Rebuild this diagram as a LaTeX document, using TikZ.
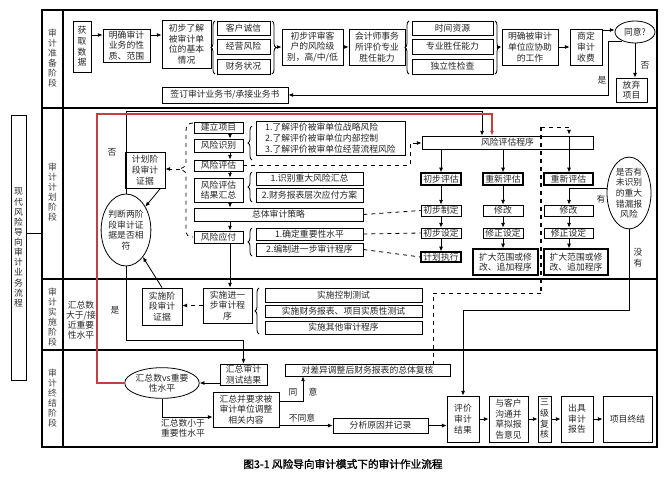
\documentclass[tikz,border=0pt]{standalone}
\usepackage{fontspec}
\setmainfont{Noto Sans CJK SC}
\newfontfamily\capfont[FakeBold=1.5]{Noto Sans CJK SC}
\usetikzlibrary{arrows.meta,shapes.geometric,decorations.pathreplacing}
\definecolor{redc}{RGB}{196,64,64}
\newcommand\fsz{\fontsize{6.6}{8}\selectfont}
\newcommand\fsv{\fontsize{6.6}{7.6}\selectfont}
\newcommand\mybox[7][]{\node[bx,minimum width={(#5-#3)*0.75pt},minimum height={(#6-#4)*0.75pt},#1] (#2) at ({(#3+#5)/2},{(#4+#6)/2}) {#7};}
\begin{document}
\begin{tikzpicture}[x=0.75pt,y=-0.75pt,
  bx/.style={draw,line width=0.6pt,inner sep=0pt,align=center,font=\fsz,text=black!85},
  tb/.style={line width=0.95pt},
  ell/.style={draw,ellipse,line width=0.6pt,inner sep=0pt,align=center,font=\fsz,text=black!85},
  arr/.style={line width=0.6pt,-{Latex[length=3.5pt,width=3pt]}},
  dsh/.style={line width=0.6pt,dashed},
  brc/.style={line width=0.6pt,decorate,decoration={brace,amplitude=3pt}},
  lbl/.style={font=\fsz,align=center,inner sep=0pt,text=black!85},
  stg/.style={font=\fsv,align=center,inner sep=0pt,text=black!75}]
\useasboundingbox (0,0) rectangle (667,500);
\fill[white] (0,0) rectangle (667,500);
% frame
\draw[line width=0.8pt] (42,10) rectangle (657,447);
\draw[line width=0.8pt] (63,10) -- (63,447);
\draw[line width=0.8pt] (42,108) -- (657,108);
\draw[line width=0.8pt] (42,279) -- (657,279);
\draw[line width=0.8pt] (42,350) -- (657,350);
\mybox[font=\fsv]{ob}{11}{115}{26}{380}{现\\代\\风\\险\\导\\向\\审\\计\\业\\务\\流\\程}
\coordinate (obc) at (42,233);
\draw[line width=0.6pt] (ob.east |- obc) -- (obc);
\node[stg] (st1) at (52.5,58) {审\\计\\准\\备\\阶\\段};
\node[stg] (st2) at (52.5,192) {审\\计\\计\\划\\阶\\段};
\node[stg] (st3) at (52.5,317) {审\\计\\实\\施\\阶\\段};
\node[stg] (st4) at (52.5,398) {审\\计\\终\\结\\阶\\段};
% ---------- preparation
\mybox{hq}{73}{21}{91}{72}{获\\取\\数\\据}
\mybox{mq}{103}{29}{150}{62}{明确审计\\业务的性\\质、范围}
\mybox{cb}{162}{20}{211}{68}{初步了解\\被审计单\\位的基本\\情况}
\mybox{kh}{217}{21}{270}{35}{客户诚信}
\mybox{jy}{217}{39}{270}{54}{经营风险}
\mybox{cw}{217}{59}{270}{74}{财务状况}
\mybox{cp}{282}{29}{343}{65}{初步评审客\\户的风险级\\别，高/中/低}
\mybox{kj}{349}{29}{405}{65}{会计师事务\\所评价专业\\胜任能力}
\mybox{sjz1}{412}{21}{493}{35}{时间资源}
\mybox{zy}{412}{39}{493}{54}{专业胜任能力}
\mybox{dl}{412}{59}{493}{74}{独立性检查}
\mybox{mb}{502}{29}{558}{65}{明确被审计\\单位应协助\\的工作}
\mybox{sd}{570}{29}{602}{65}{商定\\审计\\收费}
\node[ell,minimum width=30pt,minimum height=16.5pt] (ty) at (635,32) {同意?};
\mybox{fq}{616}{78}{647}{102}{放弃\\项目}
\mybox{qd}{162}{87}{288}{103}{签订审计业务书/承接业务书}
\draw[arr] (hq.east |- 0,35) -- (mq.west |- 0,35);
\draw[arr] (mq.east |- 0,35) -- (cb.west |- 0,35);
\draw[brc] (215,74) -- (215,21);
\draw[brc] (272,21) -- (272,74);
\coordinate (b1) at (276,47);
\draw[arr] (b1) -- (cp.west |- b1);
\draw[arr] (cp) -- (kj);
\draw[brc] (409,74) -- (409,21);
\draw[brc] (495,21) -- (495,74);
\coordinate (b2) at (498.5,47);
\draw[arr] (b2) -- (mb.west |- b2);
\draw[arr] (mb) -- (sd);
\draw[arr] (sd.east |- 0,30) -- (ty.west |- 0,30);
\draw[arr] (ty.south) -- (ty.south |- fq.north);
\node[lbl] (lfo) at (645,65) {否};
\draw[arr] (ty.215) -| (608,95) -- (qd.east);
\node[lbl] (lsh) at (602,80) {是};
% ---------- planning
\mybox{jl}{194}{122}{243}{133}{建立项目}
\mybox{fs}{194}{139}{243}{152}{风险识别}
\mybox{fp}{194}{160}{243}{171}{风险评估}
\mybox{fh}{194}{178}{243}{202}{风险评估\\结果汇总}
\mybox{zt}{194}{208}{363}{221}{总体审计策略}
\mybox{fy}{194}{231}{243}{243}{风险应付}
\mybox[align=left]{l3}{256}{121}{405}{155}{1.了解评价被审单位战略风险\\2.了解评价被审单位内部控制\\3.了解评价被审单位经营流程风险}
\mybox{s1}{256}{172}{363}{185}{1.识别重大风险汇总}
\mybox{s2}{256}{188}{363}{202}{2.财务报表层次应付方案}
\mybox{q1}{256}{228}{363}{240}{1.确定重要性水平}
\mybox{q2}{256}{243}{363}{256}{2.编制进一步审计程序}
\draw[brc] (252,160) -- (252,126);
\draw[brc] (252,202) -- (252,172);
\draw[brc] (252,256) -- (252,228);
\draw[arr] (jl.south -| 230,0) -- (fs.north -| 230,0);
\draw[arr] (fs.south -| 230,0) -- (fp.north -| 230,0);
\draw[arr] (fp.south -| 230,0) -- (fh.north -| 230,0);
\draw[arr] (fh.south -| 230,0) -- (zt.north -| 230,0);
\draw[arr] (zt.south -| 230,0) -- (fy.north -| 230,0);
% dashed brace
\coordinate (btip) at (180,169);
\draw[dsh] (193,123) .. controls (188,123) and (186,126) .. (186,131) -- (186,162) .. controls (186,166) .. (btip) .. controls (186,172) .. (186,176) -- (186,230) .. controls (186,235) and (188,237) .. (193,237);
\mybox{jh}{125}{152}{165}{188}{计划阶\\段审计\\证据}
\draw[dsh,arr] (btip) -- (jh.east |- btip);
\node[ell,minimum width=36pt,minimum height=54pt] (e1) at (126,230) {判断两阶\\段审计证\\据是否相\\符};
\draw[arr] (jh.-50) -- (e1);
% risk assessment program
\mybox{fc}{422}{136}{593}{149}{风险评估程序}
\draw[dsh,arr] (fp.east) -| (410,143) -- (fc.west |- 0,143);
\draw[arr] (e1.north) |- (482,111) -- (fc.north -| 482,0);
\mybox[tb]{c1a}{421}{173}{461}{185}{初步评估}
\mybox{c1b}{421}{205}{461}{216}{初步制定}
\mybox{c1c}{421}{228}{461}{238}{初步设定}
\mybox[tb]{c1d}{421}{252}{461}{262}{计划执行}
\mybox[tb]{c2a}{483}{173}{523}{185}{重新评估}
\mybox{c2b}{483}{205}{523}{216}{修改}
\mybox{c2c}{483}{228}{523}{238}{修正设定}
\mybox[tb]{c2d}{473}{249}{538}{275}{扩大范围或修\\改、追加程序}
\mybox[tb]{c3a}{544}{173}{593}{185}{重新评估}
\mybox{c3b}{544}{205}{593}{216}{修改}
\mybox{c3c}{544}{228}{593}{238}{修正设定}
\mybox[tb]{c3d}{544}{249}{608}{275}{扩大范围或修\\改、追加程序}
\draw[arr] (fc.south -| c1a.north) -- (c1a.north);
\draw[arr] (c1a) -- (c1b);
\draw[arr] (c1b) -- (c1c);
\draw[arr] (c1c) -- (c1d);
\draw[arr] (fc.south -| c2a.north) -- (c2a.north);
\draw[arr] (c2a) -- (c2b);
\draw[arr] (c2b) -- (c2c);
\draw[arr] (c2c.south) -- (c2d.north -| c2c.south);
\draw[arr] (c3b.south -| 569,0) -- (c3c.north -| 569,0);
\draw[arr] (c3c.south -| 569,0) -- (c3d.north -| 569,0);
\draw[dsh] (zt.east) -- (c1b.west);
\draw[dsh] (q1.east) -- (c1c.west);
\draw[dsh] (q2.east) -- (c1d.west);
% separator and re-assessment
\draw[dsh,line width=1.2pt] (541,127) -- (541,293);
\draw[dsh,arr] (541,127) -- (569,127) -- (569,134.5);
\draw[arr] (569,135.5) -- (c3a.north -| 569,0);
\node[ell,minimum width=33pt,minimum height=49.5pt] (e3) at (629,193) {是否有\\未识别\\的重大\\错漏报\\风险};
\draw[arr] (e3.west |- 0,188) -| (c3b.north -| 569,0);
\node[lbl] (lyo) at (601,199) {有};
\node[lbl] (lmy) at (638,258) {没\\有};
% ---------- implementation
\mybox{ss}{203}{288}{252}{323}{实施进一\\步审计程\\序}
\mybox{sjz}{142}{288}{182}{325}{实施阶\\段审计\\证据}
\draw[arr] (fy.south -| 230,0) -- (ss.north -| 230,0);
\draw[dsh,arr] (ss.west) -- (sjz.east |- ss.west);
\draw[arr] (sjz.north) -- (e1);
\draw[brc] (259,334) -- (259,288);
\mybox{t1}{265}{288}{422}{302}{实施控制测试}
\mybox{t2}{265}{305}{422}{317}{实施财务报表、项目实质性测试}
\mybox{t3}{265}{321}{422}{334}{实施其他审计程序}
\node[lbl] (lfo2) at (112,152) {否};
\node[lbl] (lsh2) at (115,310) {是};
\node[lbl,font=\fsv] (ldy) at (81,320) {汇总数\\大于/接\\近重要\\性水平};
% ---------- termination
\mybox{hz}{220}{364}{267}{385}{汇总审计\\测试结果}
\mybox{dc}{285}{364}{450}{376}{对差异调整后财务报表的总体复核}
\draw[arr] (e1.south) -- (e1.south |- 0,340) -| (hz.north);
\draw[dsh] (541,293) -| (dc.north -| 433,0);
\node[ell,minimum width=55.5pt,minimum height=23pt] (e2) at (162,383) {汇总数vs重要\\性水平};
\draw[arr,redc,line width=0.9pt] (e2.west) -| (97,114) -- (492,114) -- (fc.north -| 492,0);
\draw[arr] (hz.west |- 0,383) -- (e2.east);
\mybox{hb}{213}{392}{279}{427}{汇总并要求被\\审计单位调整\\相关内容}
\draw[arr] (e2.south) |- (hb.west |- 0,417);
\node[lbl,font=\fsv] (lxy) at (183,428) {汇总数小于\\重要性水平};
\draw[arr] (hb.east |- 0,401) -| (dc.south -| 303,0);
\node[lbl] (lt1) at (293,392) {同};
\node[lbl] (lt2) at (313,392) {意};
\mybox{fx}{333}{418}{428}{433}{分析原因并记录}
\draw[arr] (hb.east |- fx.west) -- (fx.west);
\node[lbl] (lbt) at (302,418) {不同意};
\mybox{pj}{447}{396}{479}{442}{评价\\审计\\结果}
\draw[arr] (fx.east) -- (pj.west |- fx.east);
\draw[arr] (e3.south) |- (463,310) -- (pj.north);
\mybox{yk}{489}{396}{528}{442}{与客户\\沟通并\\草拟报\\告意见}
\mybox{sj3}{538}{396}{551}{442}{三\\级\\复\\核}
\mybox{cj}{561}{396}{593}{442}{出具\\审计\\报告}
\mybox{xm}{603}{396}{652}{442}{项目终结}
\draw[arr] (pj) -- (yk);
\draw[arr] (yk) -- (sj3);
\draw[arr] (sj3) -- (cj);
\draw[arr] (cj) -- (xm);
\node[font=\capfont\fontsize{8}{9}\selectfont,inner sep=0pt] (cap) at (343,464) {图3-1 风险导向审计模式下的审计作业流程};
\end{tikzpicture}
\end{document}
